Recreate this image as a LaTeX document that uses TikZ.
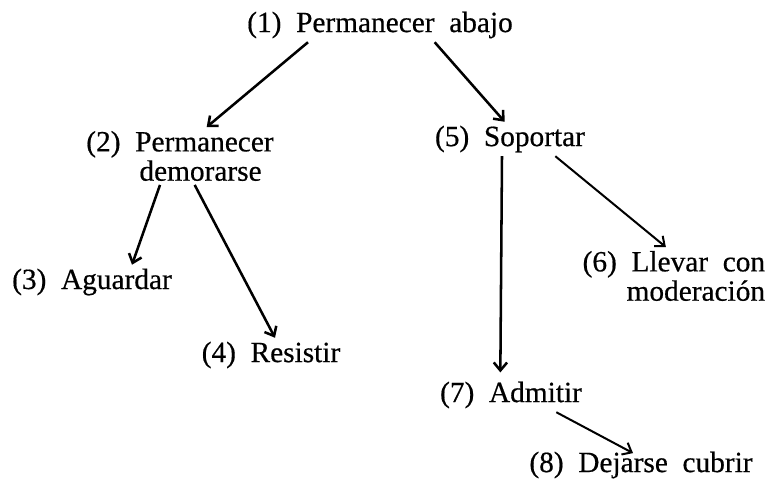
\documentclass[tikz,border=0pt]{standalone}
\usepackage{fontspec}
\setmainfont{Liberation Serif}[WordSpace=2, FakeBold=0.5]
\usetikzlibrary{arrows.meta}

\begin{document}
\begin{tikzpicture}[x=0.75pt, y=-0.75pt, line width=1.9pt,
				    >={Straight Barb[length=6pt, width=10pt]},
				    term/.style={inner sep=2pt, text=black,
				    			 font=\fontsize{22}{22}\selectfont}]
	\useasboundingbox (0, 0) rectangle (770, 478);

	\node[term] (u1) at (380, 25) {(1) Permanecer abajo};
	\node[term, align=center] (u2) at (180, 156) {(2) Permanecer\\\hspace*{1.4em}demorarse};
	\node[term] (u3) at (92, 282) {(3) Aguardar};
	\node[term] (u4) at (271, 355) {(4) Resistir};
	\node[term] (u5) at (510, 139) {(5) Soportar};
	\node[term, align=right, anchor=east] (u6) at (769, 276) {(6) Llevar con\\moderación};
	\node[term] (u7) at (511, 395) {(7) Admitir};
	\node[term] (u8) at (641, 465) {(8) Dejarse cubrir};

	\path[->] 	([xshift=-54pt]u1.south)  edge   ([xshift=20pt]u2.north);
	\path[->] 	([xshift=41pt]u1.south)   edge   ([xshift=-4pt]u5.north);
	\path[->] 	([xshift=-15pt]u2.south)  edge   ([xshift=30pt]u3.north);
	\path[->] 	([xshift=11pt]u2.south)   edge   ([xshift=3pt]u4.north);
	\path[->, line width=1.5pt] 	([xshift=34pt]u5.south)   edge   ([xshift=-6pt]u6.north);
	\path[->] 	([xshift=-6pt]u5.south)   edge   ([xshift=-8pt, yshift=4pt]u7.north);
	\path[->, line width=1.5pt] 	([xshift=34pt]u7.south)   edge   ([xshift=-6pt, yshift=-4pt]u8.north);

\end{tikzpicture}
\end{document}
